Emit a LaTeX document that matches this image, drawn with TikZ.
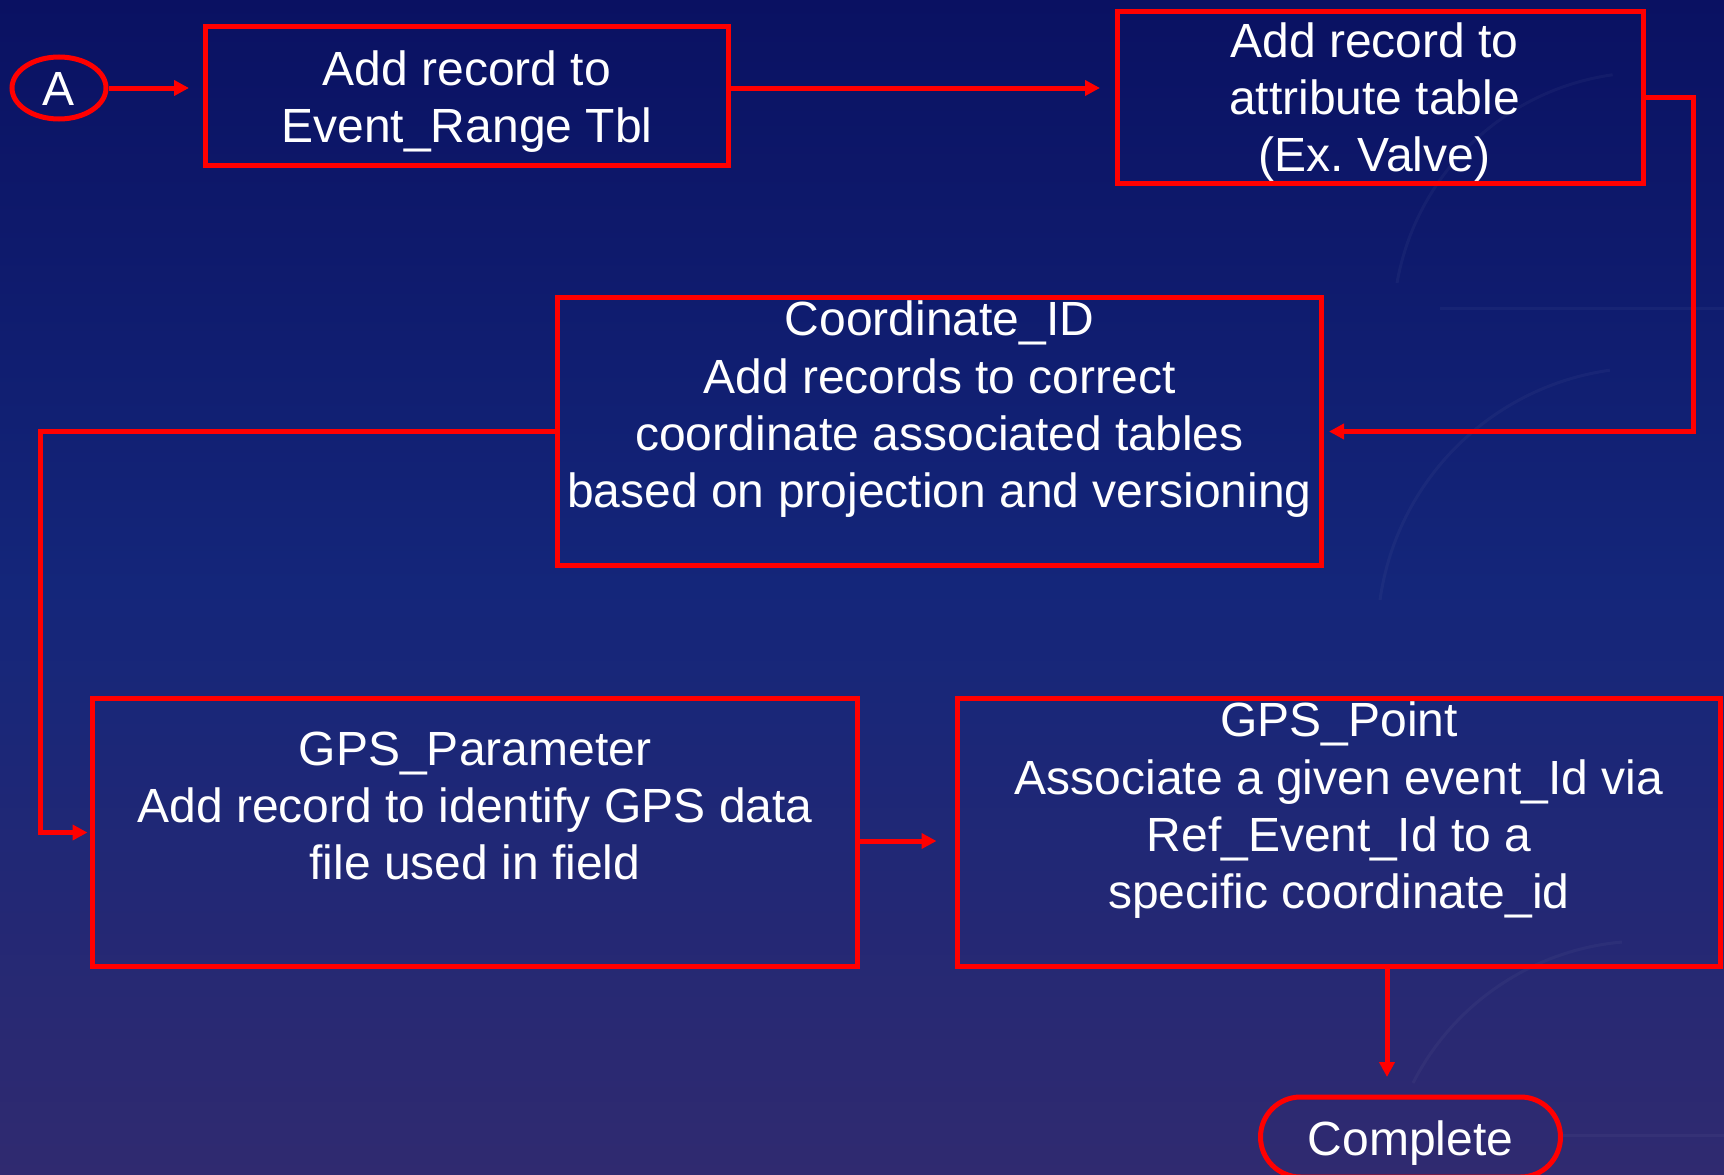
\documentclass[tikz,border=0pt]{standalone}
\usepackage{fontspec}
\setmainfont{Liberation Sans}
\usetikzlibrary{arrows.meta,shapes.geometric,calc}
\frenchspacing

\definecolor{bgtop}{RGB}{10,17,98}
\definecolor{bgmid}{RGB}{20,38,122}
\definecolor{bgbot}{RGB}{48,42,112}
\definecolor{flowred}{RGB}{255,0,0}

\tikzset{
  box/.style={draw=flowred, line width=5pt, rectangle, inner sep=0pt},
  txt/.style={text=white, align=center, inner sep=0pt,
              font=\fontsize{48}{57.3}\selectfont},
  flow/.style={draw=flowred, line width=5pt,
               -{Triangle[length=15pt,width=15pt]}},
  glow/.style={draw=white, opacity=0.035, line width=3pt},
}

\begin{document}
\begin{tikzpicture}[x=1pt, y=-1pt]
  % backdrop
  \fill[top color=bgtop, bottom color=bgbot, middle color=bgmid]
    (0,0) rectangle (1724,1175);
  \useasboundingbox (0,0) rectangle (1724,1175);

  % faint decorative arcs
  \draw[glow] (1397,283) arc[start angle=190, end angle=262, radius=255];
  \draw[glow] (1440,308) -- (1724,308);
  \draw[glow] (1380,600) arc[start angle=188, end angle=262, radius=270];
  \draw[glow] (1413,1083) arc[start angle=207, end angle=265, radius=260];
  \draw[glow] (1560,1135) -- (1724,1135);

  % start and end terminals
  \node[draw=flowred, line width=5pt, ellipse, inner sep=0pt,
        minimum width=94pt, minimum height=62pt] (A) at (59,88) {};
  \node[txt] (At) at ([yshift=-1pt]A.center) {A};

  \node[draw=flowred, line width=5pt, rectangle, rounded corners=40pt,
        minimum width=300pt, minimum height=80pt] (C) at (1410.5,1137) {};
  \node[txt] (Ct) at ([yshift=-6.5pt]C.center) {Complete};

  % process boxes
  \node[box, minimum width=523pt, minimum height=139pt] (b1) at (467,96) {};
  \node[txt] (b1t) at ([yshift=-5.5pt]b1.center) {Add record to\\Event\_Range Tbl};

  \node[box, minimum width=526pt, minimum height=172pt] (b2) at (1380.5,97.5) {};
  \node[txt] (b2t) at ([xshift=-6pt,yshift=-4.5pt]b2.center) {Add record to\\attribute table\\(Ex. Valve)};

  \node[box, minimum width=764pt, minimum height=268pt] (b3) at (939.5,431.5) {};
  \node[txt] (b3t) at ([yshift=22pt]b3.center)
    {Coordinate\_ID\\Add records to correct\\coordinate associated tables\\based on projection and versioning};

  \node[box, minimum width=765pt, minimum height=268pt] (b4) at (475,832.5) {};
  \node[txt] (b4t) at ([yshift=26.5pt]b4.center)
    {GPS\_Parameter\\Add record to identify GPS data\\file used in field};

  \node[box, minimum width=763pt, minimum height=268pt] (b5) at (1339,832.5) {};
  \node[txt] (b5t) at ([yshift=22pt]b5.center)
    {GPS\_Point\\Associate a given event\_Id via\\Ref\_Event\_Id to a\\specific coordinate\_id};

  % connectors
  \draw[flow, shorten >=14pt] (A.east) -- (b1.west |- A.east);
  \draw[flow, shorten >=15pt] (b1.east |- A.east) -- (b2.west |- A.east);
  \draw[flow, shorten >=5pt] (b2.east) -- ++(47.5,0) |- (b3.east);
  \draw[flow, shorten >=2.5pt] (b3.west) -| ([xshift=-49.5pt]b4.west) -- (b4.west);
  \draw[flow, shorten >=18.5pt] ([yshift=-8.5pt]b4.east) -- ([yshift=-8.5pt]b5.west);
  \draw[flow, shorten >=17.5pt] ([xshift=48pt]b5.south) -- ([xshift=48pt]b5.south |- C.north);
\end{tikzpicture}
\end{document}
